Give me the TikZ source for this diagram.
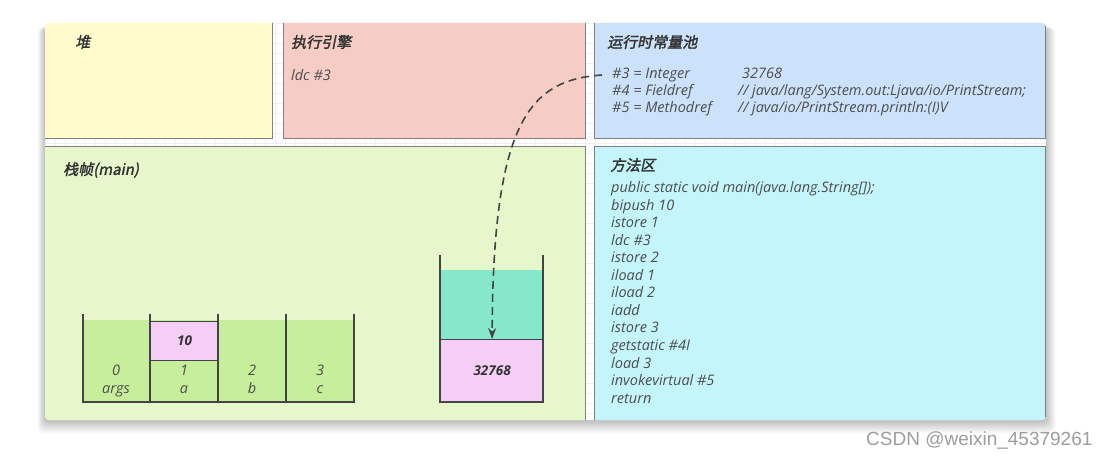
\documentclass[tikz,border=0pt]{standalone}
\usepackage{fontspec}
\setmainfont{Open Sans}
\newfontfamily\cjkt[FakeSlant=0.2,FakeBold=2]{Noto Sans CJK SC}
\newfontfamily\wmfont{Liberation Sans}
\usetikzlibrary{arrows.meta}
\definecolor{heapc}{HTML}{FFFBCC}
\definecolor{enginec}{HTML}{F6CDC5}
\definecolor{poolc}{HTML}{CCE2FA}
\definecolor{framec}{HTML}{E5F7CB}
\definecolor{methodc}{HTML}{C3F5FA}
\definecolor{cellc}{HTML}{C7EE9A}
\definecolor{pinkc}{HTML}{F5CEF5}
\definecolor{tealc}{HTML}{86E8CB}
\definecolor{borderc}{HTML}{808080}
\definecolor{wallc}{HTML}{444444}
\definecolor{titlec}{HTML}{333333}
\definecolor{bodyc}{HTML}{4D4D4D}
\definecolor{gridc}{HTML}{EFEFEF}
\tikzset{
  areabox/.style={draw=borderc, line width=0.8pt, anchor=north west, inner sep=0pt},
  title/.style={anchor=west, inner sep=0pt, text=titlec, font=\cjkt\fontsize{15}{17}\selectfont},
  body/.style={anchor=west, inner sep=0pt, text height=10.5pt, text depth=3.5pt, text=bodyc, font=\itshape\fontsize{14.5}{17}\selectfont},
  cell/.style={inner sep=0pt, text height=10.5pt, text depth=3.5pt, text=bodyc, font=\itshape\fontsize{14.5}{17}\selectfont},
  bcell/.style={inner sep=0pt, text=titlec, font=\bfseries\itshape\fontsize{13.5}{16}\selectfont},
  wall/.style={draw=wallc, line width=1.6pt},
  ptr/.style={draw=wallc, line width=1.6pt, dash pattern=on 8pt off 5pt, -{Stealth[length=11pt,width=8pt]}},
}
\begin{document}
\begin{tikzpicture}[x=1pt,y=-1pt]
\useasboundingbox (0,0) rectangle (1112,460);
\fill[white] (0,0) rectangle (1112,460);
% soft shadow
\foreach \i in {1,...,12}{
  \fill[black, opacity=0.02, rounded corners=6] (45-\i*0.6,23+4) rectangle (1046+\i*0.8,420+\i+1);
}
\begin{scope}
\clip[rounded corners=4] (45,23) rectangle (1046,420);
\fill[white] (45,23) rectangle (1046,420);
\foreach \gx in {45,55,...,1045} \draw[gridc, line width=0.5pt] (\gx,23) -- (\gx,420);
\foreach \gy in {23,33,...,420} \draw[gridc, line width=0.5pt] (45,\gy) -- (1046,\gy);
\node[areabox, fill=heapc, minimum width=237pt, minimum height=123pt] (heap) at (35,15) {};
\node[areabox, fill=enginec, minimum width=302pt, minimum height=123pt] (engine) at (283,15) {};
\node[areabox, fill=poolc, minimum width=451pt, minimum height=123pt] (pool) at (594,15) {};
\node[areabox, fill=framec, minimum width=550pt, minimum height=290pt] (frame) at (35,146) {};
\node[areabox, fill=methodc, minimum width=451pt, minimum height=290pt] (method) at (594,146) {};
\end{scope}
% titles
\node[title] (theap) at (75,42) {堆};
\node[title] (tengine) at (291,42) {执行引擎};
\node[title] (tpool) at (607,42) {运行时常量池};
\node[title] (tframe) at (63,170) {栈帧(main)};
\node[title] (tmethod) at (610,165) {方法区};
% engine
\node[body] (ldc) at (291,77) {ldc \#3};
% constant pool
\node[body] (k3) at (612,75) {\#3 = Integer};
\node[body] (k3v) at (742,75) {32768};
\node[body] (k4) at (612,92) {\#4 = Fieldref};
\node[body] (k4v) at (738,92) {// java/lang/System.out:Ljava/io/PrintStream;};
\node[body] (k5) at (612,109) {\#5 = Methodref};
\node[body] (k5v) at (738,109) {// java/io/PrintStream.println:(I)V};
% method area
\foreach \t [count=\k from 0] in {public static void main(java.lang.String[]);, bipush 10, istore 1, ldc \#3, istore 2, iload 1, iload 2, iadd, istore 3, getstatic \#4I, load 3, invokevirtual \#5, return}{
  \node[body] (m\k) at (611,189+17.55*\k) {\t};
}
% local variable table
\fill[cellc] (83,320) rectangle (354,402);
\node[draw=wallc, line width=1.2pt, fill=pinkc, minimum width=68pt, minimum height=39pt, inner sep=0pt, anchor=north west] (v1) at (150,321) {};
\node[bcell] (v1t) at (v1.center) {10};
\draw[wall] (83,314) -- (83,402) -- (354,402) -- (354,314);
\foreach \wx in {150,218,286} \draw[wall] (\wx,314) -- (\wx,402);
\node[cell] (i0) at (116,372) {0};
\node[cell] (n0) at (116,390) {args};
\node[cell] (i1) at (184,372) {1};
\node[cell] (n1) at (184,390) {a};
\node[cell] (i2) at (252,372) {2};
\node[cell] (n2) at (252,390) {b};
\node[cell] (i3) at (320,372) {3};
\node[cell] (n3) at (320,390) {c};
% operand stack
\fill[tealc] (440,270) rectangle (543,339);
\node[draw=wallc, line width=1.2pt, fill=pinkc, minimum width=103pt, minimum height=63pt, inner sep=0pt, anchor=north west] (op) at (440,339) {};
\node[bcell] (opt) at (op.center) {32768};
\draw[wall] (440,255) -- (440,402) -- (543,402) -- (543,255);
% pointer
\draw[ptr] ([xshift=-10pt]k3.west) .. controls (530,80) and (493,120) .. (op.north);
% watermark
\node[anchor=west, inner sep=0pt, text=black!38, font=\wmfont\fontsize{19}{21}\selectfont] (wm) at (866,441) {CSDN @weixin\_45379261};
\end{tikzpicture}
\end{document}
